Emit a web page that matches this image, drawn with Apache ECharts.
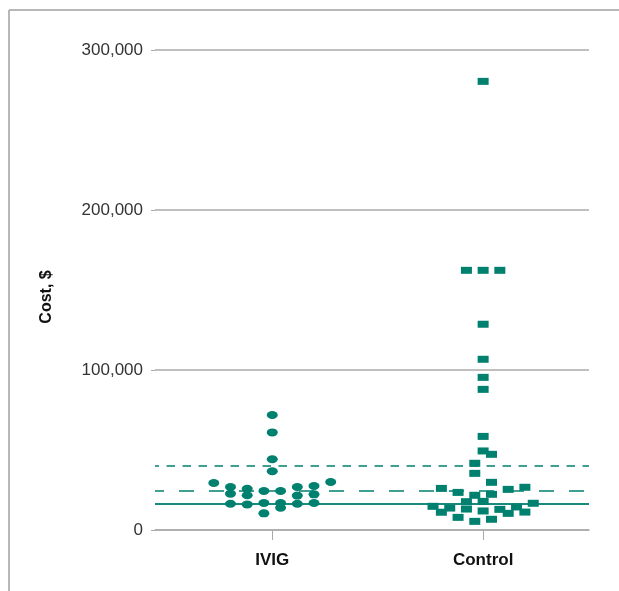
<!DOCTYPE html>
<html>
<head>
<meta charset="utf-8">
<script src="https://cdn.jsdelivr.net/npm/echarts@6/dist/echarts.min.js"></script>
<style>
html,body{margin:0;padding:0;background:#fff;}
#chart{width:619px;height:591px;}
</style>
</head>
<body>
<div id="chart"></div>
<script>
// ---- data ----
var categories = ['IVIG', 'Control'];
var yTicks = [0, 100000, 200000, 300000];

// IVIG: cost and horizontal swarm slot (offset in half-column steps)
var ivigCost = [29400, 26900, 22700, 16400, 25800, 21700, 16000, 24400, 16900, 10400,
                71900, 61000, 44200, 36700, 24400, 16900, 13900, 26900, 21500, 16400,
                27500, 22300, 16900, 30000];
var ivigSlot = [-7, -5, -5, -5, -3, -3, -3, -1, -1, -1,
                0, 0, 0, 0, 1, 1, 1, 3, 3, 3,
                5, 5, 5, 7];

// Control: cost and swarm slot
var controlCost = [280400, 162300, 128600, 106700, 95400, 87900, 58500, 49400, 17900, 11900,
                   162300, 17700, 13100, 162300, 12900,
                   47300, 29800, 22300, 6700, 41700, 35400, 21700, 5400,
                   26000, 11100, 23500, 7900, 25400, 10400, 26700, 11200,
                   16700, 14800, 13700, 14400];
var controlSlot = [0, 0, 0, 0, 0, 0, 0, 0, 0, 0,
                   -2, -2, -2, 2, 2,
                   1, 1, 1, 1, -1, -1, -1, -1,
                   -5, -5, -3, -3, 3, 3, 5, 5,
                   6, -6, -4, 4];

// reference lines (cost values)
var refSolid = 16600;     // solid line
var refLongDash = 24500;  // long-dashed line
var refShortDash = 40000; // short-dashed line

// ---- build ----
var slotWidth = 0.0396;
function build(costs, slots, idx) {
  return costs.map(function (c, i) { return [idx + slots[i] * slotWidth, c]; });
}
var teal = '#00806f';
var axisGray = '#aaaaaa';
var font = 'Liberation Sans, Arial, sans-serif';

var chart = echarts.init(document.getElementById('chart'));
chart.setOption({
  animation: false,
  backgroundColor: '#ffffff',
  graphic: [
    { type: 'line', shape: { x1: 9, y1: 10, x2: 619, y2: 10 }, style: { stroke: '#a0a0a0', lineWidth: 1.5 } },
    { type: 'line', shape: { x1: 9, y1: 10, x2: 9, y2: 591 }, style: { stroke: '#a0a0a0', lineWidth: 1.5 } }
  ],
  grid: { left: 155, right: 30, top: 50, bottom: 61 },
  xAxis: {
    type: 'value',
    min: 0.444,
    max: 2.502,
    splitLine: { show: false },
    axisLine: { show: true, lineStyle: { color: axisGray, width: 1.5 } },
    axisTick: { show: true, customValues: [1, 2], length: 10, lineStyle: { color: axisGray, width: 1 } },
    axisLabel: {
      customValues: [1, 2],
      margin: 22,
      formatter: function (v) { return categories[Math.round(v) - 1] || ''; },
      color: '#111', fontWeight: 'bold', fontSize: 17, fontFamily: font
    }
  },
  yAxis: {
    type: 'value',
    min: yTicks[0],
    max: yTicks[yTicks.length - 1],
    interval: yTicks[1] - yTicks[0],
    name: 'Cost, $',
    nameLocation: 'middle',
    nameRotate: 90,
    nameGap: 100,
    nameTextStyle: { color: '#111', fontWeight: 'bold', fontSize: 16, fontFamily: font, padding: [0, 14, 0, 0] },
    axisLine: { show: false },
    axisTick: { show: true, length: 4, lineStyle: { color: axisGray, width: 1 } },
    splitLine: { show: true, lineStyle: { color: axisGray, width: 1.5 } },
    axisLabel: {
      margin: 12,
      color: '#333', fontSize: 17, fontFamily: font,
      formatter: function (v) { return v.toLocaleString('en-US'); }
    }
  },
  series: [
    {
      type: 'scatter',
      name: 'IVIG',
      data: build(ivigCost, ivigSlot, 1),
      symbol: 'circle',
      symbolSize: [11, 8],
      itemStyle: { color: teal, opacity: 1 },
      z: 3,
      markLine: {
        silent: true,
        symbol: 'none',
        label: { show: false },
        z: 2,
        data: [
          { yAxis: refSolid, lineStyle: { color: '#1a8a7c', width: 1.8, type: 'solid' } },
          { yAxis: refLongDash, lineStyle: { color: teal, width: 1.5, type: [15, 15], dashOffset: 6 } },
          { yAxis: refShortDash, lineStyle: { color: teal, width: 1.5, type: [8.5, 7.5], dashOffset: 4.5 } }
        ]
      }
    },
    {
      type: 'scatter',
      name: 'Control',
      data: build(controlCost, controlSlot, 2),
      symbol: 'rect',
      symbolSize: [11, 7],
      itemStyle: { color: teal, opacity: 1 },
      z: 3
    }
  ]
});
</script>
</body>
</html>
